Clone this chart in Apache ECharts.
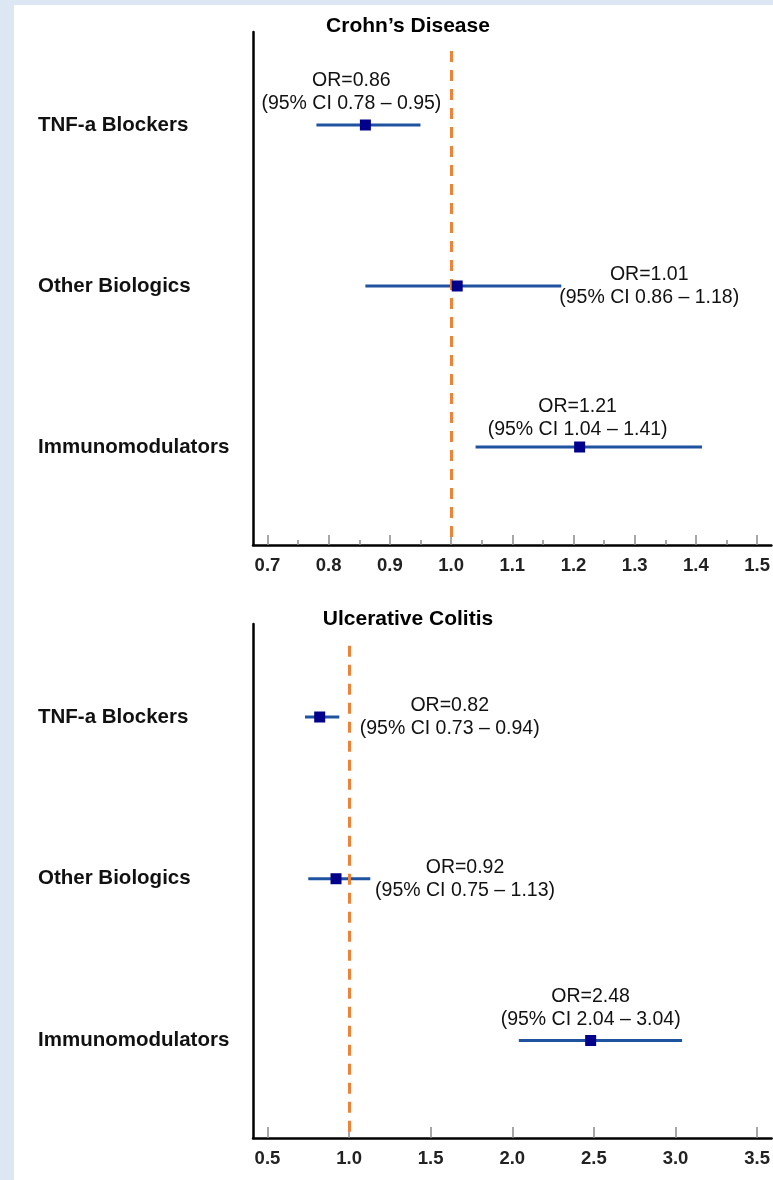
<!DOCTYPE html>
<html>
<head>
<meta charset="utf-8">
<script src="https://cdn.jsdelivr.net/npm/echarts@6/dist/echarts.min.js"></script>
<style>
  html, body { margin: 0; padding: 0; background: #dde7f3; }
  #paper { position: absolute; left: 14px; top: 5px; width: 759px; height: 1175px; background: #fff; }
  #chart { position: absolute; left: 0; top: 0; width: 773px; height: 1180px; }
</style>
</head>
<body>
<div id="paper"></div>
<div id="chart"></div>
<script>
const categories = ['TNF-a Blockers', 'Other Biologics', 'Immunomodulators'];

// Crohn's disease: odds ratio with 95% CI
const crohnOR = [0.86, 1.01, 1.21];
const crohnLow = [0.78, 0.86, 1.04];
const crohnHigh = [0.95, 1.18, 1.41];

// Ulcerative colitis
const ucOR = [0.82, 0.92, 2.48];
const ucLow = [0.73, 0.75, 2.04];
const ucHigh = [0.94, 1.13, 3.04];

const crohnTicks = [0.7, 0.8, 0.9, 1.0, 1.1, 1.2, 1.3, 1.4, 1.5];
const crohnMinorTicks = [0.75, 0.85, 0.95, 1.05, 1.15, 1.25, 1.35, 1.45];
const ucTicks = [0.5, 1.0, 1.5, 2.0, 2.5, 3.0, 3.5];

// where each annotation sits relative to its marker (px)
const crohnLabelOffset = [[-14, -33], [192, 0], [-2, -29]];
const ucLabelOffset = [[130, 0], [129, 0], [0, -32]];

const FONT = '"Liberation Sans", Arial, sans-serif';

function orText(or, lo, hi) {
  return 'OR=' + or.toFixed(2) + '\n(95% CI ' + lo.toFixed(2) + ' \u2013 ' + hi.toFixed(2) + ')';
}

function ciRender(params, api) {
  const a = api.coord([api.value(0), api.value(2)]);
  const b = api.coord([api.value(1), api.value(2)]);
  return {
    type: 'line',
    shape: { x1: a[0], y1: a[1], x2: b[0], y2: b[1] },
    style: { stroke: '#1f539f', lineWidth: 3 }
  };
}

function xAxisFor(grid, min, max, ticks, tickLen, showLine) {
  return {
    type: 'value', gridIndex: grid, min: min, max: max, position: 'bottom',
    splitLine: { show: false },
    axisLine: { show: showLine, onZero: false, lineStyle: { color: '#000', width: 2.5 } },
    axisTick: { show: true, inside: true, length: tickLen, customValues: ticks, lineStyle: { color: '#8a8a8a', width: 1.5 } },
    axisLabel: {
      show: showLine, customValues: ticks, margin: 11,
      formatter: v => v.toFixed(1),
      fontFamily: FONT, fontSize: 18.5, fontWeight: 'bold', color: '#222'
    }
  };
}

function yAxisFor(grid, min, max) {
  return {
    type: 'value', gridIndex: grid, inverse: true, min: min, max: max,
    splitLine: { show: false },
    axisLine: { show: true, onZero: false, lineStyle: { color: '#000', width: 2.5 } },
    axisTick: { show: false },
    axisLabel: {
      customValues: [0, 1, 2], align: 'left', margin: 215,
      formatter: v => categories[v],
      fontFamily: FONT, fontSize: 20.5, fontWeight: 'bold', color: '#111'
    }
  };
}

function seriesFor(axisIdx, or, lo, hi, offsets, yTop, yBottom) {
  return [
    {
      type: 'custom', xAxisIndex: axisIdx, yAxisIndex: axisIdx === 0 ? 0 : 1,
      renderItem: ciRender, z: 2,
      encode: { x: [0, 1], y: 2 },
      data: categories.map((c, i) => [lo[i], hi[i], i]),
      markLine: {
        silent: true, symbol: 'none', label: { show: false },
        lineStyle: { color: '#ee8238', width: 3, type: [11, 8] },
        data: [[{ coord: [1, yTop] }, { coord: [1, yBottom] }]]
      }
    },
    {
      type: 'scatter', xAxisIndex: axisIdx, yAxisIndex: axisIdx === 0 ? 0 : 1,
      symbol: 'rect', symbolSize: 11, z: 5,
      itemStyle: { color: '#00008b', opacity: 1 },
      data: categories.map((c, i) => ({
        value: [or[i], i],
        label: {
          show: true, position: 'inside', offset: offsets[i],
          align: 'center', verticalAlign: 'middle',
          formatter: orText(or[i], lo[i], hi[i]),
          fontFamily: FONT, fontSize: 19.5, lineHeight: 23, color: '#111'
        }
      }))
    }
  ];
}

const chart = echarts.init(document.getElementById('chart'));
chart.setOption({
  animation: false,
  title: [
    { text: 'Crohn\u2019s Disease', left: 408, top: 16, padding: 0, textAlign: 'center',
      textStyle: { fontFamily: FONT, fontSize: 21, fontWeight: 'bold', color: '#000' } },
    { text: 'Ulcerative Colitis', left: 408, top: 609, padding: 0, textAlign: 'center',
      textStyle: { fontFamily: FONT, fontSize: 21, fontWeight: 'bold', color: '#000' } }
  ],
  grid: [
    { left: 253, top: 32, width: 520, height: 513 },
    { left: 253, top: 624, width: 520, height: 514 }
  ],
  xAxis: [
    xAxisFor(0, 0.6764, 1.5233, crohnTicks, 10, true),
    xAxisFor(1, 0.4114, 3.5886, ucTicks, 11, true),
    xAxisFor(0, 0.6764, 1.5233, crohnMinorTicks, 5, false)
  ],
  yAxis: [
    yAxisFor(0, -0.5776, 2.6087),
    yAxisFor(1, -0.575, 2.603)
  ],
  series: [
    ...seriesFor(0, crohnOR, crohnLow, crohnHigh, crohnLabelOffset, -0.46, 2.6087),
    ...seriesFor(1, ucOR, ucLow, ucHigh, ucLabelOffset, -0.44, 2.603)
  ]
});
</script>
</body>
</html>
